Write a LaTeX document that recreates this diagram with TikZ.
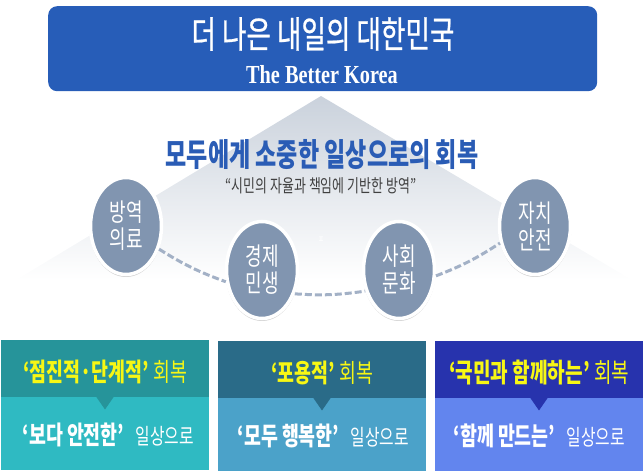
\documentclass[tikz,border=0pt]{standalone}
\usepackage{fontspec}
\setmainfont{Noto Sans CJK KR}[FakeStretch=0.72]
\newfontfamily\titlefont{Noto Sans CJK KR}[FakeStretch=0.72,FakeBold=0.6]
\newfontfamily\enfont{Liberation Serif}[FakeStretch=0.78]
\usepackage{tikz}
\usetikzlibrary{calc,positioning,shapes.geometric,shadows}
\definecolor{titleblue}{HTML}{275DB8}
\definecolor{headblue}{HTML}{2A5CB5}
\definecolor{ovalblue}{HTML}{8195B0}
\definecolor{dashblue}{HTML}{A3B1C6}
\definecolor{hilite}{HTML}{F7F714}
\definecolor{tealtop}{HTML}{26949A}
\definecolor{tealbot}{HTML}{2FBAC2}
\definecolor{steeltop}{HTML}{2A6B88}
\definecolor{steelbot}{HTML}{4BA2C9}
\definecolor{navytop}{HTML}{2733AD}
\definecolor{navybot}{HTML}{6285EE}
\newcommand{\fs}[1]{\fontsize{#1}{#1}\selectfont}
\begin{document}
\begin{tikzpicture}[
    x=1pt, y=-1pt,
    oval/.style={ellipse, draw=white, line width=3.5pt, fill=ovalblue, text=white, align=center,
      minimum width=71pt, minimum height=97pt, inner sep=0pt, font=\fontsize{25}{27}\selectfont,
      drop shadow={shadow xshift=0pt, shadow yshift=-1pt, opacity=0.35, fill=black!50, shadow scale=1.03}},
    link/.style={dashblue, line width=3pt, dash pattern=on 7pt off 3pt},
    headbox/.style={anchor=north west, minimum height=57pt, inner sep=0pt},
    bodybox/.style={anchor=north west, inner sep=0pt},
    notch/.style={isosceles triangle, shape border rotate=-90, isosceles triangle stretches, minimum width=18pt, minimum height=13pt, inner sep=0pt, anchor=apex},
    hitext/.style={text=hilite, inner sep=0pt},
    lotext/.style={text=white, inner sep=0pt},
  ]
    \useasboundingbox (0,0) rectangle (643,471);

    % fading roof behind the ovals
    \shade[top color=black!5!ovalblue!40, middle color=ovalblue!18, bottom color=white, shading angle=0]
      (321,96) -- (632,280) -- (16,280) -- cycle;

    \node[fill=titleblue, rounded corners=9pt, minimum width=549pt, minimum height=85pt, anchor=north west, inner sep=0pt] (title) at (48,6) {};
    \node[text=white, inner sep=0pt] (titlekr) at (323,34) {\fs{37}\titlefont 더 나은 내일의 대한민국};
    \node[text=white, inner sep=0pt] (titleen) at (322,75) {\fs{26}\enfont\bfseries The Better Korea};

    \node[text=headblue, inner sep=0pt] (recovery) at (322,155) {\fs{32}\bfseries 모두에게 소중한 일상으로의 회복};
    \node[text=black!75, inner sep=0pt] (quote) at (321,186) {\fs{18}“시민의 자율과 책임에 기반한 방역”};

    % ovals
    \node[oval] (health) at (126,226) {방역\\의료};
    \node[oval] (economy) at (262,270) {경제\\민생};
    \node[oval] (society) at (399,270) {사회\\문화};
    \node[oval] (safety) at (535,226) {자치\\안전};
    \node[text=white, inner sep=0pt] (mark) at (321,240) {\fs{9}ㅍ};

    \draw[link] (health.-35) to[bend right=6] (economy.198);
    \draw[link] (economy.-36) to[bend right=6] (society.212);
    \draw[link] (society.-9) to[bend right=6] (safety.206);

    % first column
    \node[bodybox, fill=tealbot, minimum width=208pt, minimum height=73pt] (tealbody) at (1,397) {};
    \node[headbox, fill=tealtop, minimum width=208pt] (tealhead) at (1,340) {};
    \node[notch, fill=tealtop] (tealnotch) at (105,410) {};
    \node[hitext] at ($(tealhead.center)+(0,3)$) {\fs{25.5}\bfseries ‘점진적·단계적’ \mdseries 회복};
    \node[lotext] at ($(tealbody.center)+(3,1.5)$) {\fs{25.5}\bfseries ‘보다 안전한’\hspace{7pt} \mdseries\fs{22}일상으로};

    % second column
    \node[bodybox, fill=steelbot, minimum width=208pt, minimum height=73pt] (steelbody) at (218,398) {};
    \node[headbox, fill=steeltop, minimum width=208pt] (steelhead) at (218,341) {};
    \node[notch, fill=steeltop] (steelnotch) at (322,411) {};
    \node[hitext] at ($(steelhead.center)+(0,3)$) {\fs{25.5}\bfseries ‘포용적’ \mdseries 회복};
    \node[lotext] at ($(steelbody.center)+(1,1.5)$) {\fs{25.5}\bfseries ‘모두 행복한’\hspace{7pt} \mdseries\fs{22}일상으로};

    % third column
    \node[bodybox, fill=navybot, minimum width=208pt, minimum height=73pt] (navybody) at (435,398) {};
    \node[headbox, fill=navytop, minimum width=208pt] (navyhead) at (435,341) {};
    \node[notch, fill=navytop] (navynotch) at (539,411) {};
    \node[hitext] at ($(navyhead.center)+(0,3)$) {\fs{26.5}\bfseries ‘국민과 함께하는’ \mdseries 회복};
    \node[lotext] at ($(navybody.center)+(0,1.5)$) {\fs{25.5}\bfseries ‘함께 만드는’\hspace{7pt} \mdseries\fs{22}일상으로};
  \end{tikzpicture}
\end{document}
